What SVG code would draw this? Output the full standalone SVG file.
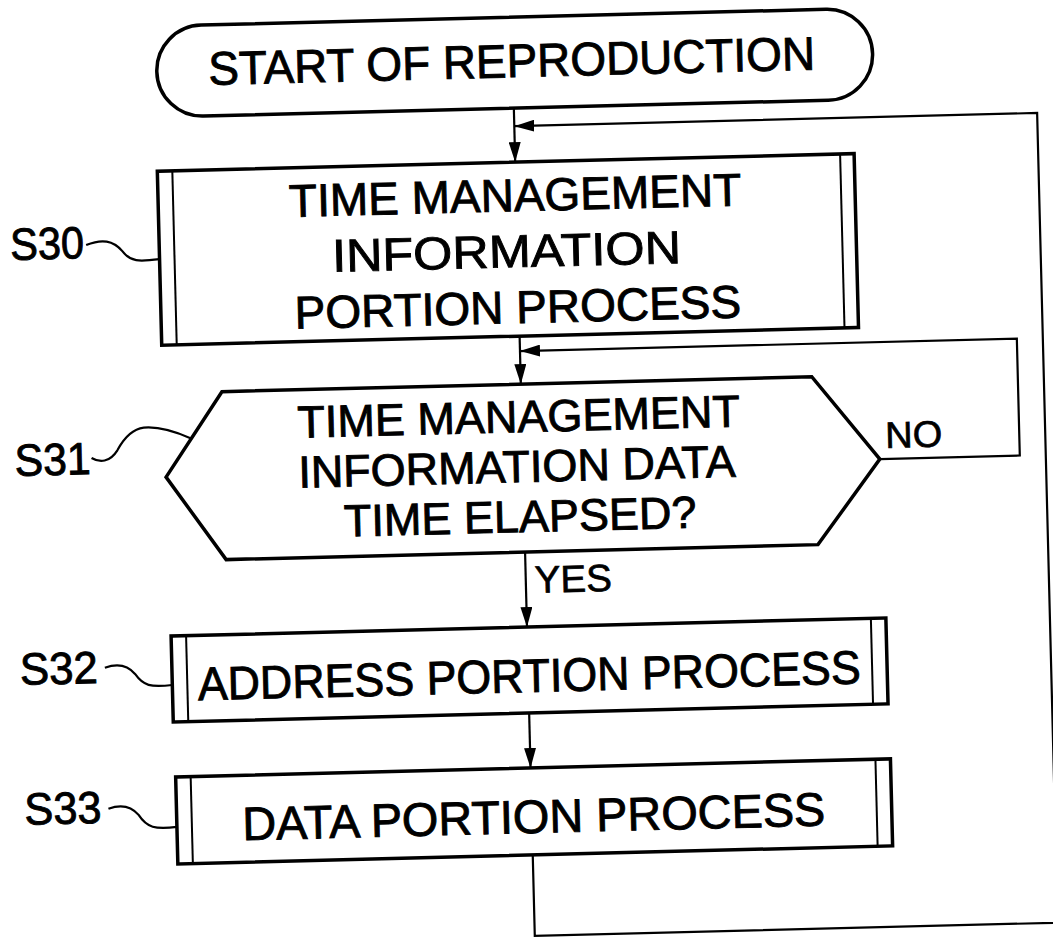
<svg xmlns="http://www.w3.org/2000/svg" width="1053" height="940" viewBox="0 0 1053 940">
<style>
.box{fill:#fff;stroke:#000;stroke-width:3.5}
.inner{stroke:#000;stroke-width:2;fill:none}
.ln{stroke:#000;stroke-width:2.2;fill:none}
.t{font-family:"Liberation Sans",Arial,sans-serif;fill:#000;stroke:#000;stroke-width:0.9;text-anchor:middle}
.lb{font-family:"Liberation Sans",Arial,sans-serif;fill:#000;stroke:#000;stroke-width:0.9;font-size:45px}
.sm{font-family:"Liberation Sans",Arial,sans-serif;fill:#000;stroke:#000;stroke-width:0.7}
</style>
<defs>
<marker id="ah" viewBox="0 0 20 12" refX="20" refY="6" markerWidth="20" markerHeight="12" markerUnits="userSpaceOnUse" orient="auto">
<path d="M0,0 L20,6 L0,12 z" fill="#000"/>
</marker>
</defs>
<rect width="1053" height="940" fill="#fff"/>
<g transform="rotate(-1.45 526 470)">
<g id="connectors">
<line class="ln" x1="523" y1="108" x2="523" y2="162" marker-end="url(#ah)"/>
<line class="ln" x1="523" y1="336" x2="523" y2="384" marker-end="url(#ah)"/>
<line class="ln" x1="523" y1="552" x2="523" y2="627" marker-end="url(#ah)"/>
<line class="ln" x1="523" y1="713" x2="523" y2="768" marker-end="url(#ah)"/>
<polyline class="ln" points="880,468 1020,468 1020,351 523,351" marker-end="url(#ah)"/>
<polyline class="ln" points="523,855 523,936 1046,936 1046,126 523,126" marker-end="url(#ah)"/>
<path class="ln" d="M92,234 C108,228 119,230 128,241 C136,252 144,252 165,250"/>
<path class="ln" d="M92,447 C100,452 110,452 118,440 C126,426 134,419 145,418 C160,417 175,422 192,430"/>
<path class="ln" d="M100,657 C112,653 122,654 130,664 C138,676 145,678 167,676"/>
<path class="ln" d="M100,798 C112,794 122,795 130,805 C138,818 146,820 168,818"/>
</g>
<g id="start">
<rect class="box" x="167" y="17" width="716" height="91" rx="45.5" ry="45.5"/>
<text class="t" x="522" y="77" font-size="47" textLength="607" lengthAdjust="spacingAndGlyphs">START OF REPRODUCTION</text>
</g>
<g id="s30">
<rect class="box" x="165" y="162" width="697" height="174"/>
<line class="inner" x1="180" y1="162" x2="180" y2="336"/>
<line class="inner" x1="848" y1="162" x2="848" y2="336"/>
<text class="t" x="522" y="211" font-size="46">TIME MANAGEMENT</text>
<text class="t" x="512" y="267" font-size="46" textLength="349" lengthAdjust="spacingAndGlyphs">INFORMATION</text>
<text class="t" x="522" y="323" font-size="46">PORTION PROCESS</text>
<text class="lb" x="16" y="247" textLength="74" lengthAdjust="spacingAndGlyphs">S30</text>
</g>
<g id="s31">
<polygon class="box" points="166,468 224,384 814,384 880,468 816,552 224,552"/>
<text class="t" x="520" y="432" font-size="45">TIME MANAGEMENT</text>
<text class="t" x="517" y="482" font-size="45">INFORMATION DATA</text>
<text class="t" x="519" y="532" font-size="45">TIME ELAPSED?</text>
<text class="lb" x="15" y="463" textLength="76" lengthAdjust="spacingAndGlyphs">S31</text>
<text class="sm" x="886" y="457" font-size="37" textLength="57" lengthAdjust="spacingAndGlyphs">NO</text>
<text class="sm" x="532" y="593" font-size="38" textLength="77" lengthAdjust="spacingAndGlyphs">YES</text>
</g>
<g id="s32">
<rect class="box" x="167" y="627" width="715" height="86"/>
<line class="inner" x1="182" y1="627" x2="182" y2="713"/>
<line class="inner" x1="867" y1="627" x2="867" y2="713"/>
<text class="t" x="524" y="692" font-size="47" textLength="663" lengthAdjust="spacingAndGlyphs">ADDRESS PORTION PROCESS</text>
<text class="lb" x="15" y="672" textLength="78" lengthAdjust="spacingAndGlyphs">S32</text>
</g>
<g id="s33">
<rect class="box" x="168" y="768" width="715" height="87"/>
<line class="inner" x1="183" y1="768" x2="183" y2="855"/>
<line class="inner" x1="868" y1="768" x2="868" y2="855"/>
<text class="t" x="525" y="833" font-size="47" textLength="583" lengthAdjust="spacingAndGlyphs">DATA PORTION PROCESS</text>
<text class="lb" x="16" y="812" textLength="77" lengthAdjust="spacingAndGlyphs">S33</text>
</g>
</g>
</svg>
